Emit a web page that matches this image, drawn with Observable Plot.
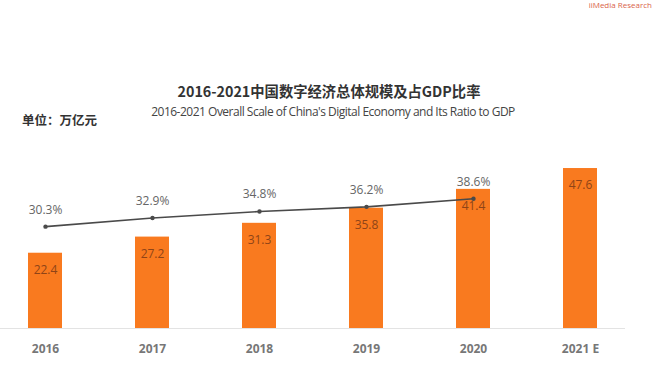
<!DOCTYPE html>
<html>
<head>
<meta charset="utf-8">
<script src="https://cdn.jsdelivr.net/npm/d3@7"></script>
<script src="https://cdn.jsdelivr.net/npm/@observablehq/plot@0.6"></script>
<style>
  html, body { margin: 0; padding: 0; background: #fff; }
  #wrap { position: relative; width: 654px; height: 375px; overflow: hidden; font-family: "Noto Sans CJK SC", "Noto Sans", sans-serif; }
  .abs { position: absolute; white-space: nowrap; }
  #title { left: 0; width: 658px; top: 80px; text-align: center; font-size: 14.3px; font-weight: bold; color: #333; }
  #subtitle { left: 0; width: 666px; top: 103px; text-align: center; font-size: 12px; color: #444; font-family: "Open Sans", sans-serif; letter-spacing: -0.5px; }
  #unit { left: 22px; top: 110px; font-size: 12.5px; font-weight: bold; color: #333; }
  #logo { right: 2px; top: 0px; font-size: 8px; line-height: 10px; color: #d9634a; font-family: "Open Sans", sans-serif; }
  #plot { position: absolute; left: 0; top: 0; }
</style>
</head>
<body>
<div id="wrap">
  <div id="plot"></div>
  <div class="abs" id="title">2016-2021中国数字经济总体规模及占GDP比率</div>
  <div class="abs" id="subtitle">2016-2021 Overall Scale of China's Digital Economy and Its Ratio to GDP</div>
  <div class="abs" id="unit">单位：万亿元</div>
  <div class="abs" id="logo">iiMedia Research</div>
</div>
<script>
const years = ["2016", "2017", "2018", "2019", "2020", "2021 E"];
const scale = [22.4, 27.2, 31.3, 35.8, 41.4, 47.6];
const ratioYears = ["2016", "2017", "2018", "2019", "2020"];
const ratio = [30.3, 32.9, 34.8, 36.2, 38.6];

const bars = years.map((y, i) => ({year: y, value: scale[i]}));
const line = ratioYears.map((y, i) => ({year: y, ratio: ratio[i]}));

const chart = Plot.plot({
  width: 654,
  height: 375,
  marginLeft: 0,
  marginRight: 29,
  marginTop: 0,
  marginBottom: 47,
  style: {fontFamily: "'Open Sans', 'Noto Sans', sans-serif", background: "transparent"},
  x: {domain: years, paddingInner: 0.68, paddingOuter: 0.25, label: null},
  y: {domain: [0, 97.6], axis: null},
  marks: [
    Plot.ruleY([0], {stroke: "#e3e3e3", strokeWidth: 1}),
    Plot.barY(bars, {x: "year", y: "value", fill: "#f97a1f"}),
    Plot.text(bars, {x: "year", y: "value", text: d => d.value.toFixed(1), dy: 17, fill: "#8f4417", fontSize: 12}),
    Plot.line(line, {x: "year", y: "ratio", stroke: "#4a4a4a", strokeWidth: 1.6}),
    Plot.dot(line, {x: "year", y: "ratio", r: 2.2, fill: "#4a4a4a"}),
    Plot.text(line, {x: "year", y: "ratio", text: d => d.ratio.toFixed(1) + "%", dy: -17, fill: "#666", fontSize: 12}),
    Plot.axisX({tickSize: 0, tickPadding: 16, fontSize: 12, fill: "#777", fontWeight: "bold", label: null})
  ]
});
document.getElementById("plot").appendChild(chart);
</script>
</body>
</html>
